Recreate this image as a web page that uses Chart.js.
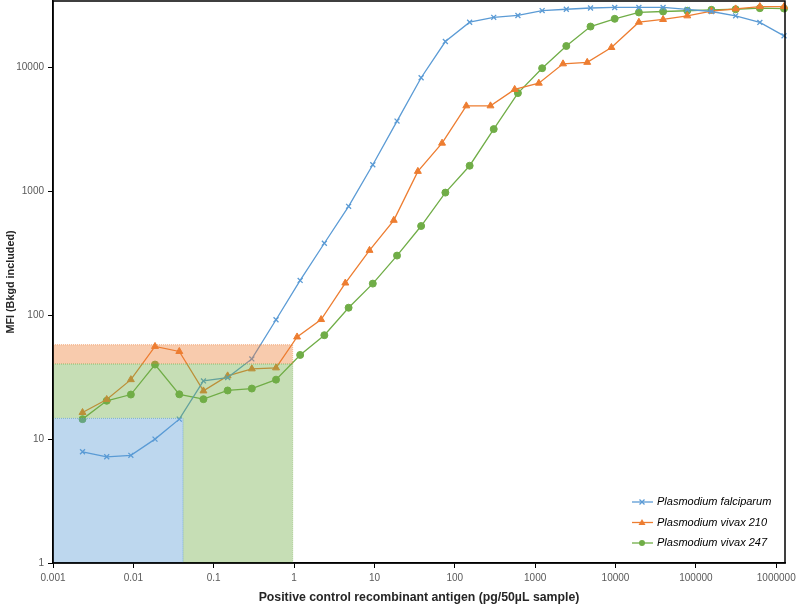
<!DOCTYPE html>
<html>
<head>
<meta charset="utf-8">
<script src="https://cdn.jsdelivr.net/npm/chart.js@4.4.1/dist/chart.umd.min.js"></script>
<style>
  html, body { margin: 0; padding: 0; background: #fff; }
  #wrap { width: 796px; height: 606px; position: relative; }
</style>
</head>
<body>
<div id="wrap"><canvas id="c"></canvas></div>
<script>
/* MFI vs antigen dilution — log/log */

// x: antigen concentration (pg/50µL sample)
const concStd = [0.00233, 0.00466, 0.00931, 0.0186, 0.0373, 0.0745, 0.149, 0.298, 0.596,
  1.19, 2.38, 4.77, 9.54, 19.1, 38.1, 76.3, 153, 305, 610, 1221, 2441, 4883, 9766,
  19531, 39063, 78125, 156250, 312500, 625000, 1250000];
const concVivax210 = [0.00233, 0.00466, 0.00931, 0.0186, 0.0373, 0.0745, 0.149, 0.298, 0.596,
  1.09, 2.17, 4.34, 8.68, 17.4, 34.7, 69.4, 139, 278, 556, 1111, 2222, 4444, 8888,
  19531, 39063, 78125, 156250, 312500, 625000, 1250000];

// y: MFI (background included)
const mfiFalciparum = [7.9, 7.2, 7.4, 10, 14.5, 29.5, 31.4, 44.4, 92, 191, 381, 757, 1640,
  3690, 8260, 16200, 23200, 25400, 26300, 28800, 29500, 30200, 30500, 30500, 30500, 29400,
  28300, 26100, 23100, 18000];
const mfiVivax210 = [16.4, 20.9, 30.2, 56, 51, 24.5, 32.4, 36.9, 37.6, 66.8, 92.3, 182, 334,
  584, 1450, 2450, 4900, 4900, 6650, 7470, 10700, 11000, 14500, 23200, 24400, 26100, 28500,
  29700, 31000, 31000];
const mfiVivax247 = [14.5, 20.4, 22.9, 40, 23, 21, 24.7, 25.6, 30.2, 47.8, 69, 115, 180, 303,
  525, 977, 1610, 3180, 6210, 9860, 14900, 21400, 24700, 27800, 28300, 28700, 29200, 29500,
  30100, 29900];

// shaded limit-of-detection boxes
const lodFalcX = [0.001, 0.04146, 0.04146];
const lodFalcY = [14.7, 14.7, 1];
const lod247X = [0.001, 0.04146];
const lod247Y = [40.4, 40.4];
const lod247bX = [0.04146, 0.96, 0.96];
const lod247bY = [40.4, 40.4, 1];
const lod210X = [0.001, 0.96, 0.96];
const lod210Y = [57.8, 57.8, 40.4];

const xTicks = [0.001, 0.01, 0.1, 1, 10, 100, 1000, 10000, 100000, 1000000];
const yTicks = [1, 10, 100, 1000, 10000];
const xRange = [0.001, 1285000];
const yRange = [1, 34400];

const seriesNames = ["Plasmodium falciparum", "Plasmodium vivax 210", "Plasmodium vivax 247"];

const COLORS = { blue: "#5B9BD5", orange: "#ED7D31", green: "#70AD47" };
const FONT = "'Liberation Sans', Arial, sans-serif";

const pts = (xs, ys) => xs.map((x, i) => ({ x, y: ys[i] }));

function series(label, xs, ys, color, style, r) {
  return {
    label, data: pts(xs, ys),
    borderColor: color, backgroundColor: color,
    borderWidth: 1.3, pointStyle: style, pointRadius: r,
    pointBorderWidth: style === "crossRot" ? 1.3 : 1,
    fill: false, clip: false, order: 1,
  };
}

function shade(xs, ys, color, fill) {
  return {
    label: "", data: pts(xs, ys),
    borderColor: color.line, backgroundColor: color.fill,
    borderWidth: 1, borderDash: [1, 1], pointRadius: 0,
    fill, order: 0,
  };
}

const shadeBlue = { fill: "rgba(91,155,213,0.4)", line: "rgba(91,155,213,0.7)" };
const shadeGreen = { fill: "rgba(112,173,71,0.4)", line: "rgba(112,173,71,0.7)" };
const shadeOrange = { fill: "rgba(237,125,49,0.4)", line: "rgba(237,125,49,0.55)" };

const boxPlugin = {
  id: "plotBox",
  afterDraw(chart) {
    const { ctx, chartArea: a } = chart;
    ctx.save();
    ctx.strokeStyle = "#000";
    ctx.lineWidth = 1.5;
    ctx.strokeRect(a.left, a.top, a.right - a.left, a.bottom - a.top);
    ctx.restore();
  },
};

const legendPlugin = {
  id: "insideLegend",
  afterDraw(chart) {
    const { ctx, chartArea: a } = chart;
    const items = [
      { c: COLORS.blue, s: "cross" },
      { c: COLORS.orange, s: "tri" },
      { c: COLORS.green, s: "dot" },
    ];
    ctx.save();
    ctx.font = "italic 11px " + FONT;
    ctx.textBaseline = "middle";
    items.forEach((it, i) => {
      const y = a.bottom - 61 + i * 20.5;
      const x0 = a.right - 153;
      ctx.strokeStyle = it.c;
      ctx.fillStyle = it.c;
      ctx.lineWidth = 1.3;
      ctx.beginPath();
      ctx.moveTo(x0, y);
      ctx.lineTo(x0 + 21, y);
      ctx.stroke();
      const mx = x0 + 10;
      ctx.beginPath();
      if (it.s === "cross") {
        ctx.moveTo(mx - 2.5, y - 2.5); ctx.lineTo(mx + 2.5, y + 2.5);
        ctx.moveTo(mx + 2.5, y - 2.5); ctx.lineTo(mx - 2.5, y + 2.5);
        ctx.stroke();
      } else if (it.s === "tri") {
        ctx.moveTo(mx, y - 3.5); ctx.lineTo(mx + 3.5, y + 2.5); ctx.lineTo(mx - 3.5, y + 2.5);
        ctx.closePath(); ctx.fill();
      } else {
        ctx.arc(mx, y, 3, 0, Math.PI * 2); ctx.fill();
      }
      ctx.fillStyle = "#000";
      ctx.fillText(seriesNames[i], x0 + 25, y);
    });
    ctx.restore();
  },
};

new Chart(document.getElementById("c"), {
  type: "line",
  data: {
    datasets: [
      series(seriesNames[0], concStd, mfiFalciparum, COLORS.blue, "crossRot", 3.5),
      series(seriesNames[1], concVivax210, mfiVivax210, COLORS.orange, "triangle", 4),
      series(seriesNames[2], concStd, mfiVivax247, COLORS.green, "circle", 3.5),
      shade(lodFalcX, lodFalcY, shadeBlue, "start"),
      shade(lod247X, lod247Y, shadeGreen, { value: 14.7 }),
      shade(lod247bX, lod247bY, shadeGreen, "start"),
      shade(lod210X, lod210Y, shadeOrange, { value: 40.4 }),
    ],
  },
  options: {
    responsive: true,
    maintainAspectRatio: false,
    animation: false,
    layout: { autoPadding: false, padding: { top: 1, right: 11, left: 0, bottom: 0 } },
    plugins: {
      legend: { display: false },
      tooltip: { enabled: false },
    },
    scales: {
      x: {
        type: "logarithmic",
        min: xRange[0], max: xRange[1],
        afterBuildTicks: (s) => { s.ticks = xTicks.map((v) => ({ value: v })); },
        afterFit: (s) => { s.height = 43; s.paddingLeft = 0; s.paddingRight = 0; },
        ticks: {
          autoSkip: false, maxRotation: 0, padding: 4,
          color: "#595959", font: { family: FONT, size: 10 },
          callback: (v) => String(v),
        },
        grid: { drawOnChartArea: false, drawTicks: true, tickLength: 5, color: "#000" },
        border: { display: true, color: "#000", width: 1.5 },
        title: {
          display: true, text: "Positive control recombinant antigen (pg/50µL sample)",
          color: "#262626", font: { family: FONT, size: 12.3, weight: "bold" },
          padding: { top: 0, bottom: 1 },
        },
      },
      y: {
        type: "logarithmic",
        min: yRange[0], max: yRange[1],
        afterBuildTicks: (s) => { s.ticks = yTicks.map((v) => ({ value: v })); },
        afterFit: (s) => { s.width = 53; s.paddingTop = 0; s.paddingBottom = 0; },
        ticks: {
          padding: 4, color: "#595959", font: { family: FONT, size: 10 },
          callback: (v) => String(v),
        },
        grid: { drawOnChartArea: false, drawTicks: true, tickLength: 5, color: "#000" },
        border: { display: true, color: "#000", width: 1.5 },
        title: {
          display: true, text: "MFI (Bkgd included)",
          color: "#262626", font: { family: FONT, size: 10.8, weight: "bold" },
          padding: { top: 5, bottom: 0 },
        },
      },
    },
  },
  plugins: [boxPlugin, legendPlugin],
});
</script>
</body>
</html>
